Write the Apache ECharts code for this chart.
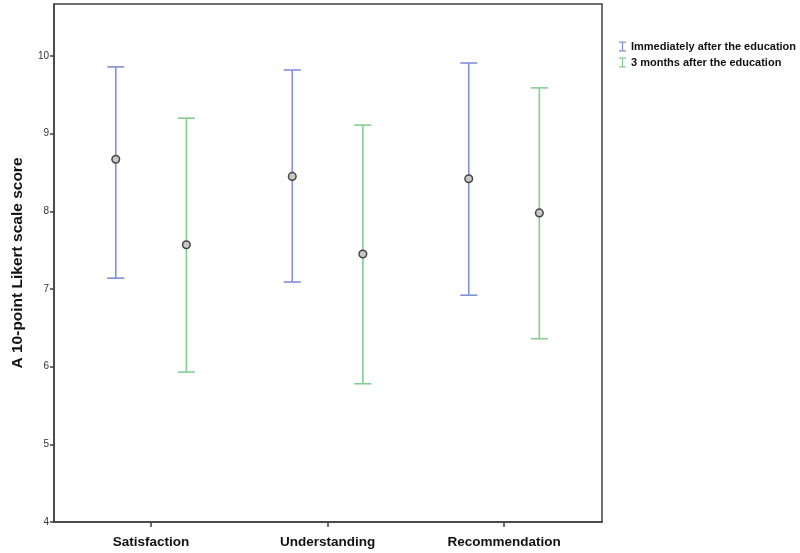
<!DOCTYPE html>
<html>
<head>
<meta charset="utf-8">
<script src="https://cdn.jsdelivr.net/npm/echarts@6/dist/echarts.min.js"></script>
<style>
  html, body { margin: 0; padding: 0; background: #fff; }
  #chart { width: 800px; height: 553px; }
</style>
</head>
<body>
<div id="chart"></div>
<script>
// 数据：均值和误差线上下限
var categories = ['Satisfaction', 'Understanding', 'Recommendation'];
var groupNames = ['Immediately after the education', '3 months after the education'];
var yTicks = [4, 5, 6, 7, 8, 9, 10];

var afterMean = [8.67, 8.45, 8.42];
var afterLow  = [7.14, 7.09, 6.92];
var afterHigh = [9.86, 9.82, 9.91];

var laterMean = [7.57, 7.45, 7.98];
var laterLow  = [5.93, 5.78, 6.36];
var laterHigh = [9.20, 9.11, 9.59];

var blue = '#7f8fd8';
var green = '#82cf92';

function buildData(mean, low, high, shift) {
  var out = [];
  for (var i = 0; i < categories.length; i++) {
    out.push([i + 1 + shift, low[i], high[i], mean[i]]);
  }
  return out;
}

function renderBar(params, api) {
  var x = api.value(0);
  var lo = api.coord([x, api.value(1)]);
  var hi = api.coord([x, api.value(2)]);
  var mid = api.coord([x, api.value(3)]);
  var cap = 8.5;
  var color = api.visual('color');
  var lineStyle = { stroke: color, lineWidth: 1.6 };
  return {
    type: 'group',
    children: [
      { type: 'line', shape: { x1: hi[0], y1: hi[1], x2: lo[0], y2: lo[1] }, style: lineStyle },
      { type: 'line', shape: { x1: hi[0] - cap, y1: hi[1], x2: hi[0] + cap, y2: hi[1] }, style: lineStyle },
      { type: 'line', shape: { x1: lo[0] - cap, y1: lo[1], x2: lo[0] + cap, y2: lo[1] }, style: lineStyle },
      { type: 'circle', shape: { cx: mid[0], cy: mid[1], r: 3.8 }, style: { fill: '#c8c8c8', stroke: '#444', lineWidth: 1.5 } }
    ]
  };
}

var dom = document.getElementById('chart');
var myChart = echarts.init(dom, null, { renderer: 'canvas' });

var iconI = 'path://M0,0h7v1.2h-2.9v7.6h2.9v1.2h-7v-1.2h2.9v-7.6h-2.9z';

var option = {
  animation: false,
  backgroundColor: '#fff',
  textStyle: { fontFamily: 'Liberation Sans, Arial, sans-serif' },
  grid: {
    left: 54, right: 198, top: 4, bottom: 31,
    show: true, borderColor: '#404040', borderWidth: 1.5
  },
  legend: {
    orient: 'vertical',
    left: 614, top: 36,
    itemWidth: 7, itemHeight: 10, itemGap: 5,
    icon: iconI,
    textStyle: { fontSize: 11, fontWeight: 'bold', color: '#111' },
    data: groupNames
  },
  xAxis: {
    type: 'value',
    min: 0.45, max: 3.555,
    splitLine: { show: false },
    axisLine: { lineStyle: { color: '#404040', width: 1.5 } },
    axisTick: { show: true, customValues: [1, 2, 3], length: 5, lineStyle: { color: '#404040', width: 1.5 } },
    axisLabel: {
      customValues: [1, 2, 3],
      margin: 13,
      fontSize: 13.5, fontWeight: 'bold', color: '#111',
      formatter: function (v) { return categories[Math.round(v) - 1] || ''; }
    }
  },
  yAxis: {
    type: 'value',
    min: 4, max: 10.67,
    name: 'A 10-point Likert scale score',
    nameLocation: 'middle',
    nameRotate: 90,
    nameGap: 28,
    nameTextStyle: { fontSize: 15.5, fontWeight: 'bold', color: '#111' },
    splitLine: { show: false },
    axisLine: { show: true, lineStyle: { color: '#404040', width: 1.5 } },
    axisTick: { show: true, customValues: yTicks, length: 4, lineStyle: { color: '#404040', width: 1.5 } },
    axisLabel: { customValues: yTicks, margin: 5, fontSize: 10, color: '#333' }
  },
  series: [
    {
      name: groupNames[0],
      type: 'custom',
      renderItem: renderBar,
      itemStyle: { color: blue },
      encode: { x: 0, y: [1, 2, 3] },
      data: buildData(afterMean, afterLow, afterHigh, -0.2)
    },
    {
      name: groupNames[1],
      type: 'custom',
      renderItem: renderBar,
      itemStyle: { color: green },
      encode: { x: 0, y: [1, 2, 3] },
      data: buildData(laterMean, laterLow, laterHigh, 0.2)
    }
  ]
};

myChart.setOption(option);
window.addEventListener('resize', myChart.resize);
</script>
</body>
</html>
